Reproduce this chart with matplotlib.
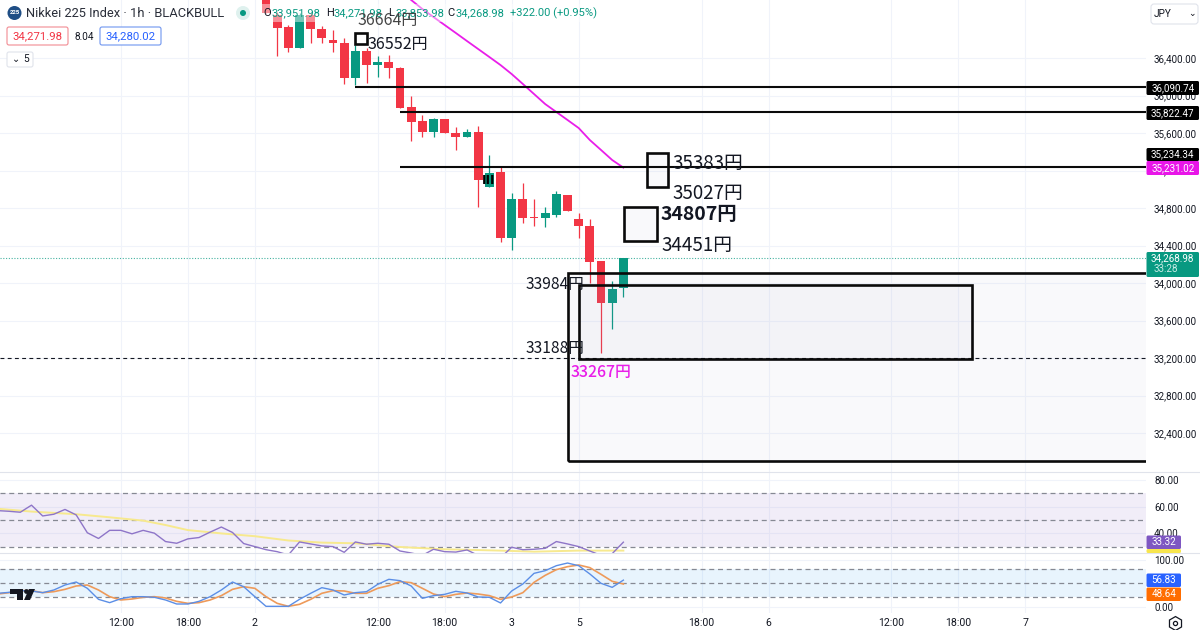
import matplotlib
matplotlib.use("Agg")
import matplotlib.pyplot as plt
from matplotlib.patches import Rectangle, FancyBboxPatch, Circle, Polygon
from matplotlib.ticker import FixedLocator, FixedFormatter

W, H = 1200, 630
RED, GREEN = "#f23645", "#089981"
GRID = "#f0f3fa"
UI = ["Roboto", "DejaVu Sans"]
JP = ["Noto Sans CJK JP", "DejaVu Sans"]

# ---- data -------------------------------------------------------------
first_candle = 24
opens = [37100, 36859, 36731, 36507, 36859, 36709, 36592, 36560, 36187, 36475, 36325, 36357, 36293,
         35877, 35728, 35611, 35749, 35600, 35557, 35611, 35024, 35184, 34480, 34896, 34704, 34693,
         34725, 34939, 34683, 34608, 34235, 33787, 33951.98]
highs = [37150, 36891, 36752, 36880, 36880, 36741, 36699, 36613, 36539, 36507, 36421, 36432, 36304,
         35995, 35792, 35760, 35749, 35664, 35643, 35675, 35365, 35237, 34960, 35067, 34896, 34811,
         34981, 34939, 34747, 34683, 34235, 34021, 34271.98]
lows = [36880, 36421, 36464, 36507, 36560, 36560, 36464, 36123, 36112, 36133, 36197, 36187, 35867,
        35515, 35557, 35557, 35600, 35419, 35557, 34811, 35024, 34437, 34352, 34640, 34608, 34597,
        34704, 34768, 34480, 33999, 33253, 33509, 33853.98]
closes = [36880, 36720, 36507, 36859, 36709, 36613, 36560, 36187, 36475, 36325, 36357, 36293, 35867,
          35717, 35611, 35749, 35600, 35557, 35611, 35099, 35173, 34480, 34896, 34693, 34693, 34747,
          34949, 34768, 34608, 34224, 33787, 33936, 34268.98]

ma_start = 36
ma_values = [37130, 37019, 36923, 36837, 36752, 36667, 36581, 36496, 36411, 36325, 36229, 36123,
             36016, 35909, 35824, 35739, 35653, 35525, 35419, 35312, 35231.02]

rsi = [57, 56.5, 55.8, 61.1, 53.0, 54.3, 57.9, 53.8, 40.4, 36.1, 42.2, 42.2, 39.6, 42.2, 40.1, 33.8,
       32.5, 35.8, 36.8, 40.9, 44.7, 40.6, 32.3, 30.0, 27.7, 26.2, 23.7, 33.5, 32.0, 30.5, 30.0, 25.7,
       33.5, 31.8, 32.5, 31.8, 26.7, 25.2, 23.4, 28.0, 26.2, 25.9, 27.5, 23.4, 22.2, 21.6, 29.5, 27.7,
       28.0, 28.7, 33.8, 32.0, 30.0, 26.7, 23.4, 24.7, 33.32]
rsi_ma_bars = [0, 3, 7, 10, 13, 15, 17, 20, 23, 26, 29, 32, 36, 40, 45, 48, 52, 56]
rsi_ma = [58.4, 56.3, 54.3, 52, 49.5, 46.2, 42.4, 39.9, 37.8, 34.6, 33, 32.5, 29.7, 28, 27, 26.2, 27, 27]

stoch_k = [28.6, 30.7, 34.3, 33.6, 30, 35.7, 46.4, 52.8, 39.3, 15.7, 8.6, 17.1, 21.4, 21.4, 20, 14.3,
           5.7, 5.7, 11.4, 21.4, 35.7, 52.8, 42.8, 21.4, 0.7, 0.7, 0.7, 15.7, 28.6, 40.7, 35.7, 25, 30,
           32.1, 47.8, 58.6, 55.7, 44.3, 17.9, 23.6, 26.4, 32.9, 29.3, 20.7, 20, 7.9, 33.6, 48.6, 71.4,
           77.1, 87.8, 93.5, 87.8, 70, 50, 41.4, 56.83]
stoch_d = [27.1, 30, 34.3, 34.3, 30, 32.1, 37.1, 44.3, 46.4, 35.7, 21.4, 14.3, 16.4, 20, 21.4, 18.6,
           11.4, 7.1, 8.6, 14.3, 23.6, 37.1, 42.8, 39.3, 21.4, 7.1, 0.7, 5, 15.7, 28.6, 34.3, 33.6,
           28.6, 28.6, 39.3, 45, 53.6, 51.4, 39.3, 27.1, 21.4, 26.4, 29.3, 27.1, 23.6, 15.7, 20.7, 30,
           52.1, 67.1, 79.3, 85.7, 89.3, 83.6, 69.3, 54.3, 48.64]

price_ticks = [36400, 36000, 35600, 35200, 34800, 34400, 34000, 33600, 33200, 32800, 32400]
time_ticks = [11, 17, 23, 34, 40, 46, 52, 63, 69, 80, 86, 92]
time_labels = ["12:00", "18:00", "2", "12:00", "18:00", "3", "5", "18:00", "6", "12:00", "18:00", "7"]

level_lines = [(36090.74, 32), (35822.47, 36), (35234.34, 36)]
boxes = [(32, 33.05, 36664, 36552, False), (58.1, 60, 35383, 35027, True), (56.1, 59, 34807, 34451, True),
         (51, 110, 34107, 32101, True), (52, 87.2, 33984, 33188, True)]
last_close = 34268.98
dashed_level = 33200

XLIM = (0.18, 102.8)   # bar index at the pane edges


def pane(top, bottom, ylim):
    a = fig.add_axes([0, 1 - bottom / H, 1146 / W, (bottom - top) / H])
    a.set_xlim(*XLIM)
    a.set_ylim(*ylim)
    for s in a.spines.values():
        s.set_visible(False)
    a.yaxis.tick_right()
    a.tick_params(axis="y", length=0, pad=5.8, labelsize=7.1, labelcolor="#131722")
    a.tick_params(axis="x", length=0, labelbottom=False)
    a.xaxis.set_major_locator(FixedLocator(time_ticks))
    a.grid(True, color=GRID, lw=0.8)
    a.set_axisbelow(True)
    a.patch.set_alpha(0)
    return a


fig = plt.figure(figsize=(12, 6.3), dpi=100, facecolor="white")

# ---- price pane -------------------------------------------------------
ax = pane(0, 472, (31984, 37019))
ax.yaxis.set_major_locator(FixedLocator(price_ticks))
ax.yaxis.set_major_formatter(FixedFormatter([f"{p:,.2f}" for p in price_ticks]))
for lab in ax.get_yticklabels():
    lab.set_fontfamily(UI)

bars = list(range(first_candle, first_candle + len(opens)))
cols = [GREEN if c > o else RED for o, c in zip(opens, closes)]
ax.vlines(bars, lows, highs, colors=cols, lw=0.9, zorder=3)
ax.bar(bars, [abs(c - o) for o, c in zip(opens, closes)], bottom=[min(o, c) for o, c in zip(opens, closes)],
       width=0.8, color=cols, linewidth=0, zorder=3)
ax.plot(range(ma_start, ma_start + len(ma_values)), ma_values, color="#e91ee9", lw=1.3, zorder=4)
ax.axhline(last_close, color=GREEN, lw=0.8, ls=(0, (1, 1.5)), alpha=0.75, zorder=2)
ax.axhline(dashed_level, color="#131722", lw=0.8, ls=(0, (3.5, 3)), zorder=6)
for lvl, start in level_lines:
    ax.plot([start, XLIM[1]], [lvl, lvl], color="#0a0a0a", lw=1.5, zorder=7, solid_capstyle="butt")
for x0, x1, top, bot, filled in boxes:
    if filled:
        ax.add_patch(Rectangle((x0, bot), x1 - x0, top - bot, facecolor="#8f93c0", alpha=0.05, lw=0, zorder=5))
    ax.add_patch(Rectangle((x0, bot), x1 - x0, top - bot, fill=False, edgecolor="#0a0a0a", lw=1.9, zorder=7))

# ---- RSI pane ---------------------------------------------------------
ax2 = pane(472, 553, (25.2, 86))
ax2.yaxis.set_major_locator(FixedLocator([80, 60, 40]))
ax2.yaxis.set_major_formatter(FixedFormatter(["80.00", "60.00", "40.00"]))
for lab in ax2.get_yticklabels():
    lab.set_fontfamily(UI)
ax2.axhspan(30, 70, color="#7e57c2", alpha=0.1, lw=0, zorder=1)
for v in (70, 50, 30):
    ax2.axhline(v, color="#868993", lw=0.9, ls=(0, (4, 3)), zorder=2)
ax2.plot(rsi_ma_bars, rsi_ma, color="#f7e98e", lw=1.4, zorder=3)
ax2.plot(range(len(rsi)), rsi, color="#8e75c8", lw=1.0, zorder=4)

# ---- Stochastic pane --------------------------------------------------
ax3 = pane(553, 613, (-13.6, 115))
ax3.yaxis.set_major_locator(FixedLocator([100, 0]))
ax3.yaxis.set_major_formatter(FixedFormatter(["100.00", "0.00"]))
for lab in ax3.get_yticklabels():
    lab.set_fontfamily(UI)
ax3.axhspan(20, 80, color="#2196f3", alpha=0.1, lw=0, zorder=1)
for v in (80, 50, 20):
    ax3.axhline(v, color="#868993", lw=0.9, ls=(0, (4, 3)), zorder=2)
ax3.plot(range(len(stoch_d)), stoch_d, color="#ee9a5a", lw=1.2, zorder=3)
ax3.plot(range(len(stoch_k)), stoch_k, color="#5b8ee6", lw=1.0, zorder=4)
ax3.tick_params(axis="x", labelbottom=True, pad=3.5, labelsize=7.6, labelcolor="#131722")
ax3.xaxis.set_major_formatter(FixedFormatter(time_labels))
for lab in ax3.get_xticklabels():
    lab.set_fontfamily(UI)

# ---- overlay in figure pixels: header, tags and notes ------------------
ov = fig.add_axes([0, 0, 1, 1], zorder=20)
ov.set_xlim(0, W)
ov.set_ylim(H, 0)
ov.axis("off")
ov.patch.set_alpha(0)

ov.plot([0, W], [472, 472], color="#e0e3eb", lw=0.8)
ov.plot([0, W], [553, 553], color="#e0e3eb", lw=0.8)

# header fade
ov.add_patch(Rectangle((262, 4), 335, 18, facecolor="white", alpha=0.45, lw=0))


def T(x, y, s, size=7.4, color="#131722", ha="left", fam=UI, weight="normal", z=30):
    return ov.text(x, y, s, fontsize=size, color=color, ha=ha, va="center", family=fam, fontweight=weight, zorder=z)


def round_box(x0, y0, x1, y1, ec, fc="white", lw=0.8, r=2):
    ov.add_patch(FancyBboxPatch((x0, y0), x1 - x0, y1 - y0, boxstyle=f"round,pad=0,rounding_size={r}",
                                ec=ec, fc=fc, lw=lw, zorder=25, mutation_aspect=1))


ov.add_patch(Circle((14.5, 13), 7, fc="#1f4e85", ec="none"))
T(14.5, 13, "225", size=4.4, color="white", ha="center", weight="bold")
T(26, 13.5, "Nikkei 225 Index · 1h · BLACKBULL", size=9.3, color="#2a2e39")
ov.add_patch(Circle((243, 13), 7, fc=GREEN, ec="none", alpha=0.13))
ov.add_patch(Circle((243, 13), 3, fc=GREEN, ec="none"))

for x, s, c in [(263, "O", "#131722"), (272, "33,951.98", GREEN), (326, "H", "#131722"), (334, "34,271.98", GREEN),
                (388, "L", "#131722"), (396, "33,853.98", GREEN), (447, "C", "#131722"), (456, "34,268.98", GREEN),
                (510, "+322.00 (+0.95%)", GREEN)]:
    T(x, 13.5, s, size=8.0, color=c)

round_box(7, 27, 68, 45, "#f28b93")
T(37.5, 36.5, "34,271.98", size=8.2, color=RED, ha="center")
T(84, 36.5, "8.04", size=7.2, ha="center")
round_box(100, 27, 161, 45, "#6f95ef")
T(130.5, 36.5, "34,280.02", size=8.2, color="#2962ff", ha="center")
round_box(7, 52, 33, 67, "#e0e3eb")
T(16, 59.5, "⌄", size=7, ha="center", fam=["DejaVu Sans"])
T(26.5, 59.5, "5", size=7.4, ha="center")
round_box(1151, 4, 1198, 24, "#e0e3eb", r=3)
T(1154, 14, "JPY", size=7.2)
T(1192, 13, "⌄", size=6.5, ha="center", fam=["DejaVu Sans"])

# notes on the price pane
T(358, 20, "36664円", size=11.5, color="#444444", fam=JP)
T(368, 44, "36552円", size=11.5, fam=JP)
T(672, 164, "35383円", size=13.5, fam=JP)
T(672, 194, "35027円", size=13.5, fam=JP)
T(661, 214, "34807円", size=14, fam=JP, weight="bold")
T(661, 246, "34451円", size=13.5, fam=JP)
T(526, 285, "33984円", size=11.2, fam=JP)
T(526, 348, "33188円", size=11.2, fam=JP)
T(571, 372, "33267円", size=11.4, color="#e91ee9", fam=JP, weight="medium")
T(488.5, 180, "III", size=9, ha="center", fam=["DejaVu Sans"], color="#000000", weight="bold")


def tag(y0, y1, s, bg, fg="white", x0=1146.5, x1=1199):
    ov.add_patch(FancyBboxPatch((x0, y0), x1 - x0, y1 - y0, boxstyle="round,pad=0,rounding_size=1.5",
                                ec="none", fc=bg, zorder=26))
    if s:
        T((x0 + x1) / 2, (y0 + y1) / 2, s, size=7.1, color=fg, ha="center")


tag(81, 95, "36,090.74", "#000000")
tag(106, 120, "35,822.47", "#000000")
tag(148, 161, "35,234.34", "#000000")
tag(161, 175, "35,231.02", "#e815e8")
tag(252, 277, "", GREEN)
T(1172.5, 258.5, "34,268.98", size=7.1, color="white", ha="center")
T(1154, 269.5, "33:28", size=7.1, color="#c8ece6")
tag(549, 553, "", "#f7e54d", x1=1181)
tag(535.5, 549, "33.32", "#7e57c2", x1=1181)
tag(573.5, 587, "56.83", "#2962ff", x1=1181)
tag(587.5, 601, "48.64", "#ff6d00", x1=1181)

# settings glyph
ov.plot([1175], [623], marker="h", ms=10, mfc="white", mec="#131722", mew=0.9)
ov.plot([1175], [623], marker="o", ms=3, mfc="white", mec="#131722", mew=0.9)

# logo
ov.add_patch(Polygon([(10, 589), (23, 589), (23, 600), (17, 600), (17, 594), (10, 594)], fc="#131722", ec="none"))
ov.add_patch(Circle((26.5, 591.5), 2.4, fc="#131722", ec="none"))
ov.add_patch(Polygon([(29, 589), (35, 589), (30, 600), (24, 600)], fc="#131722", ec="none"))

fig.savefig("out.png", dpi=100)
